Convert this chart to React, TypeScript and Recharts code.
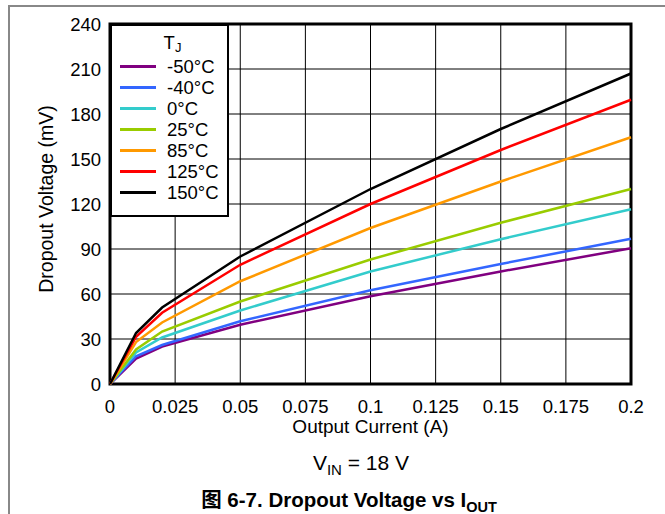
import React from 'react'
import { LineChart, Line, XAxis, YAxis, CartesianGrid, Legend, Label, ReferenceArea } from 'recharts'

// output current (A)
const current = [0, 0.01, 0.02, 0.05, 0.1, 0.15, 0.2]

// dropout voltage (mV) per junction temperature
const tMinus50 = [0, 17, 25, 39.5, 58.5, 75, 90.5]
const tMinus40 = [0, 18.5, 26, 41.8, 62.5, 80, 96.8]
const t0 = [0, 21, 31, 49, 75, 96.5, 116.5]
const t25 = [0, 23, 35, 55, 83, 107.5, 130]
const t85 = [0, 28, 41, 68.5, 104, 135, 164.5]
const t125 = [0, 31.5, 47.5, 79.5, 120, 156, 189.5]
const t150 = [0, 34, 51, 85, 130, 170, 207]

const xTicks = [0, 0.025, 0.05, 0.075, 0.1, 0.125, 0.15, 0.175, 0.2]
const xTickLabels = ['0', '0.025', '0.05', '0.075', '0.1', '0.125', '0.15', '0.175', '0.2']
const yTicks = [0, 30, 60, 90, 120, 150, 180, 210, 240]

const series = [
  { key: 'm50', name: '-50°C', values: tMinus50, color: '#800080' },
  { key: 'm40', name: '-40°C', values: tMinus40, color: '#3366ff' },
  { key: 't0', name: '0°C', values: t0, color: '#33cccc' },
  { key: 't25', name: '25°C', values: t25, color: '#99cc00' },
  { key: 't85', name: '85°C', values: t85, color: '#ff9900' },
  { key: 't125', name: '125°C', values: t125, color: '#ff0000' },
  { key: 't150', name: '150°C', values: t150, color: '#000000' },
]

const data = current.map((x, i) => {
  const row: Record<string, number> = { x }
  series.forEach((s) => {
    row[s.key] = s.values[i]
  })
  return row
})

const font = '"Liberation Sans", Arial, "Noto Sans CJK SC", sans-serif'

function LegendBox() {
  return (
    <div
      style={{
        width: 115,
        height: 189,
        border: '2px solid #000',
        background: '#fff',
        fontFamily: font,
        fontSize: 18.5,
        color: '#000',
        boxSizing: 'content-box',
      }}
    >
      <div style={{ textAlign: 'center', marginTop: 7, marginBottom: 3, height: 20, lineHeight: '20px', paddingLeft: 6 }}>
        T<span style={{ fontSize: 13, lineHeight: 0, verticalAlign: '-3px' }}>J</span>
      </div>
      {series.map((s) => (
        <div key={s.key} style={{ display: 'flex', alignItems: 'center', height: 21, lineHeight: '21px' }}>
          <span style={{ display: 'inline-block', width: 36, height: 3, background: s.color, marginLeft: 8, marginRight: 11 }} />
          <span>{s.name}</span>
        </div>
      ))}
    </div>
  )
}

export default function App() {
  return (
    <div style={{ position: 'absolute', left: 0, top: 0, width: 665, height: 514, background: '#fff', overflow: 'hidden' }}>
      <div
        style={{
          position: 'absolute',
          left: 8,
          top: 5,
          width: 700,
          height: 600,
          borderTop: '2px solid #888',
          borderLeft: '2px solid #888',
        }}
      />
      <LineChart
        width={665}
        height={514}
        data={data}
        margin={{ top: 24, right: 34, left: 0, bottom: 70 }}
        style={{ position: 'absolute', left: 0, top: 0, fontFamily: font }}
      >
        <CartesianGrid stroke="#000" strokeWidth={1} />
        <XAxis
          dataKey="x"
          type="number"
          domain={[0, 0.2]}
          ticks={xTicks}
          tickFormatter={(v: number) => xTickLabels[xTicks.indexOf(v)] ?? String(v)}
          tickLine={false}
          axisLine={false}
          tickMargin={10}
          height={60}
          tick={{ fill: '#000', fontSize: 18.5, fontFamily: font }}
        >
          <Label
            content={({ viewBox }: any) => (
              <text
                x={viewBox.x + viewBox.width / 2}
                y={viewBox.y + 49}
                textAnchor="middle"
                fontSize={19}
                fontFamily={font}
                fill="#000"
              >
                Output Current (A)
              </text>
            )}
          />
        </XAxis>
        <YAxis
          type="number"
          domain={[0, 240]}
          ticks={yTicks}
          tickLine={false}
          axisLine={false}
          tickMargin={3}
          width={110}
          tick={{ fill: '#000', fontSize: 18.5, fontFamily: font }}
        >
          <Label
            content={({ viewBox }: any) => {
              const cx = 53
              const cy = viewBox.y + viewBox.height / 2 - 5
              return (
                <text
                  x={cx}
                  y={cy}
                  transform={`rotate(-90 ${cx} ${cy})`}
                  textAnchor="middle"
                  fontSize={19.5}
                  fontFamily={font}
                  fill="#000"
                >
                  Dropout Voltage (mV)
                </text>
              )
            }}
          />
        </YAxis>
        {series.map((s) => (
          <Line
            key={s.key}
            dataKey={s.key}
            name={s.name}
            type="linear"
            stroke={s.color}
            strokeWidth={2.5}
            dot={false}
            isAnimationActive={false}
          />
        ))}
        <ReferenceArea x1={0} x2={0.2} y1={0} y2={240} fill="none" stroke="#000" strokeWidth={3} />
        <Legend
          layout="vertical"
          align="center"
          verticalAlign="middle"
          content={() => <LegendBox />}
          wrapperStyle={{ position: 'absolute', left: 110, top: 24, width: 'auto', height: 'auto' }}
        />
      </LineChart>
      <div
        style={{
          position: 'absolute',
          left: 0,
          width: 722,
          top: 451,
          height: 24,
          lineHeight: '24px',
          textAlign: 'center',
          fontFamily: font,
          fontSize: 21,
          color: '#000',
        }}
      >
        V<sub style={{ fontSize: 15, lineHeight: 0 }}>IN</sub> = 18 V
      </div>
      <div
        style={{
          position: 'absolute',
          left: 0,
          width: 698,
          top: 488,
          height: 24,
          lineHeight: '24px',
          textAlign: 'center',
          fontFamily: font,
          fontSize: 20.5,
          fontWeight: 'bold',
          color: '#000',
        }}
      >
        图 6-7. Dropout Voltage vs I<sub style={{ fontSize: 14.5, lineHeight: 0 }}>OUT</sub>
      </div>
    </div>
  )
}
